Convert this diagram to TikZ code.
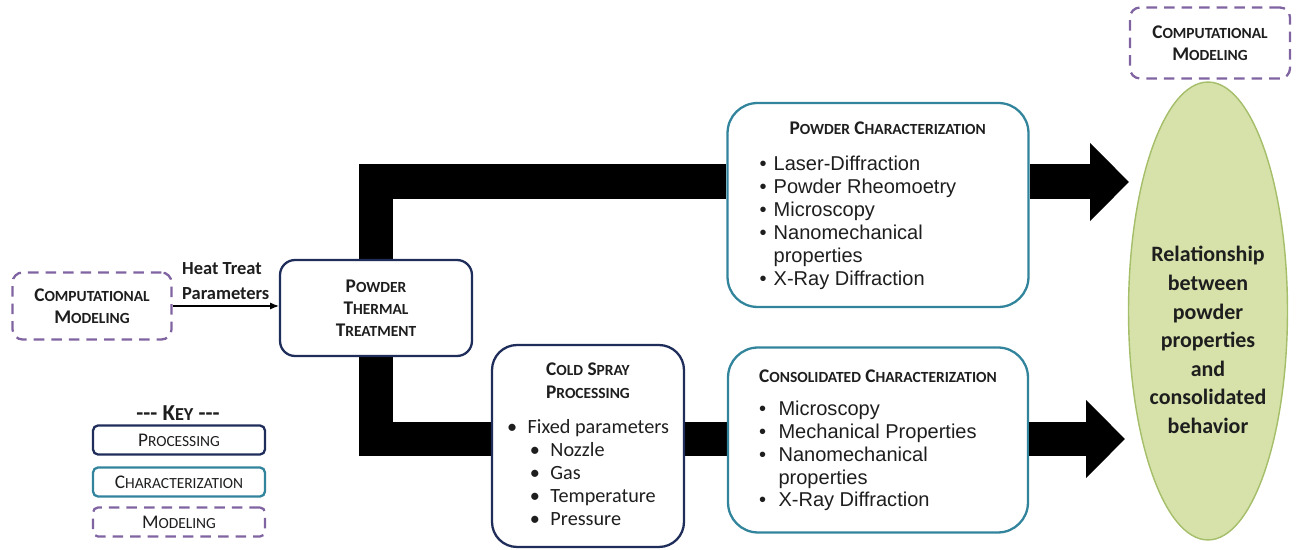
\documentclass[tikz,border=0pt]{standalone}
\usepackage{fontspec}
\setmainfont{Carlito}
\newfontfamily\arialfont{Liberation Sans}
\usetikzlibrary{arrows.meta,shapes.geometric,backgrounds}

\definecolor{procblue}{RGB}{31,45,90}
\definecolor{charteal}{RGB}{49,132,155}
\definecolor{modpurple}{RGB}{128,100,162}
\definecolor{relgreen}{RGB}{214,226,170}
\definecolor{relline}{RGB}{165,190,105}
\definecolor{ink}{RGB}{30,30,30}

% fake small caps: first letter, then the rest smaller
\newcommand{\smc}[2]{#1\scalebox{0.8}{#2}}

\tikzset{
    procbox/.style={draw=procblue, line width=1.3pt, rounded corners=0.3cm, fill=white, text=ink, align=center},
    charbox/.style={draw=charteal, line width=1.3pt, rounded corners=0.6cm, fill=white, text=ink},
    modbox/.style={draw=modpurple, line width=1.3pt, dash pattern=on 6pt off 4pt, rounded corners=0.2cm, fill=white, text=ink, align=center},
    keybox/.style={minimum width=3.44cm, minimum height=0.58cm, rounded corners=0.1cm, inner sep=1pt, font=\fontsize{11}{13}\selectfont},
    headfont/.style={font=\bfseries\fontsize{11}{12.6}\selectfont},
    band/.style={line width=0.7cm, black},
    bandtip/.style={-{Triangle[length=0.78cm,width=1.52cm]}},
}

\begin{document}
\begin{tikzpicture}[x=0.02cm, y=-0.02cm]
    \useasboundingbox (0,0) rectangle (1303,550);

    % processing
    \node[modbox, headfont, minimum width=3.18cm, minimum height=1.34cm] (cmleft) at (92,306) {\smc{C}{OMPUTATIONAL}\\\smc{M}{ODELING}};
    \node[procbox, headfont, minimum width=3.84cm, minimum height=1.92cm] (ptt) at (376,308) {\smc{P}{OWDER}\\\smc{T}{HERMAL}\\\smc{T}{REATMENT}};
    \draw[-{Latex[length=5pt,width=4pt]}, line width=0.6pt] (cmleft.east) -- (cmleft.east -| ptt.west)
        node[midway, above, align=left, text=ink, font=\bfseries\fontsize{10.5}{14}\selectfont] (heatlbl) {Heat Treat\\Parameters};

    \node[procbox, rounded corners=0.5cm, minimum width=3.84cm, minimum height=4.04cm, font=\fontsize{11.5}{13}\selectfont] (cold) at (588,446) {%
        \begin{tabular}{@{}l@{}}
        \multicolumn{1}{@{}c@{}}{\bfseries\fontsize{11}{13}\selectfont \smc{C}{OLD} \smc{S}{PRAY}}\\
        \multicolumn{1}{@{}c@{}}{\bfseries\fontsize{11}{13}\selectfont \smc{P}{ROCESSING}}\\[7pt]
        •\hspace{6pt}Fixed parameters\\
        \hspace{13pt}•\hspace{6pt}Nozzle\\
        \hspace{13pt}•\hspace{6pt}Gas\\
        \hspace{13pt}•\hspace{6pt}Temperature\\
        \hspace{13pt}•\hspace{6pt}Pressure
        \end{tabular}};

    % characterization
    \node[charbox, minimum width=6.02cm, minimum height=4.08cm, font=\arialfont\fontsize{11.4}{13}\selectfont] (pchar) at (878,205) {%
        \begin{tabular}{@{}l@{\hspace{4pt}}l@{}}
        \multicolumn{2}{@{\hspace{17pt}}l@{\hspace{6pt}}}{\rmfamily\bfseries\fontsize{11}{13}\selectfont \smc{P}{OWDER} \smc{C}{HARACTERIZATION}}\\[8pt]
        • & Laser-Diffraction\\
        • & Powder Rheomoetry\\
        • & Microscopy\\
        • & Nanomechanical\\
          & properties\\
        • & X-Ray Diffraction
        \end{tabular}};
    \node[charbox, minimum width=6cm, minimum height=3.7cm, font=\arialfont\fontsize{11.4}{13}\selectfont] (cons) at (878,440) {%
        \begin{tabular}{@{}l@{\hspace{7pt}}l@{}}
        \multicolumn{2}{@{}l@{}}{\rmfamily\bfseries\fontsize{11}{13}\selectfont \smc{C}{ONSOLIDATED} \smc{C}{HARACTERIZATION}}\\[6pt]
        • & Microscopy\\
        • & Mechanical Properties\\
        • & Nanomechanical\\
          & properties\\
        • & X-Ray Diffraction
        \end{tabular}};

    % outcome
    \node[ellipse, draw=relline, fill=relgreen, line width=0.8pt, minimum width=3.18cm, minimum height=9.16cm] (rel) at (1208,311) {};
    \node[align=center, text=ink, font=\bfseries\fontsize{12.5}{16.3}\selectfont] (reltext) at (1208,340) {Relationship\\between\\powder\\properties\\and\\consolidated\\behavior};
    \node[modbox, headfont, minimum width=3.2cm, minimum height=1.42cm] (cmright) at (1210,43) {\smc{C}{OMPUTATIONAL}\\\smc{M}{ODELING}};

    % big arrows
    \coordinate (uptip) at (1129,182);
    \coordinate (lotip) at (1125,439);
    \begin{scope}[on background layer]
        \draw[band] (ptt.north) |- (pchar.west |- uptip);
        \draw[band] (ptt.south) |- (cold.west |- lotip);
        \draw[band] (cold.east |- lotip) -- (cons.west |- lotip);
    \end{scope}
    \draw[band, bandtip] (pchar.east |- uptip) -- (uptip);
    \draw[band, bandtip] (cons.east |- lotip) -- (lotip);

    % key
    \node[text=ink, font=\bfseries\fontsize{13}{15}\selectfont] (keytitle) at (178,413) {-{}-{}- K\scalebox{0.8}{EY} -{}-{}-};
    \node[procbox, keybox] (keyproc) at (179,440) {\smc{P}{ROCESSING}};
    \node[charbox, keybox] (keychar) at (179,482) {\smc{C}{HARACTERIZATION}};
    \node[modbox, keybox] (keymod) at (179,522) {\smc{M}{ODELING}};

\end{tikzpicture}
\end{document}
